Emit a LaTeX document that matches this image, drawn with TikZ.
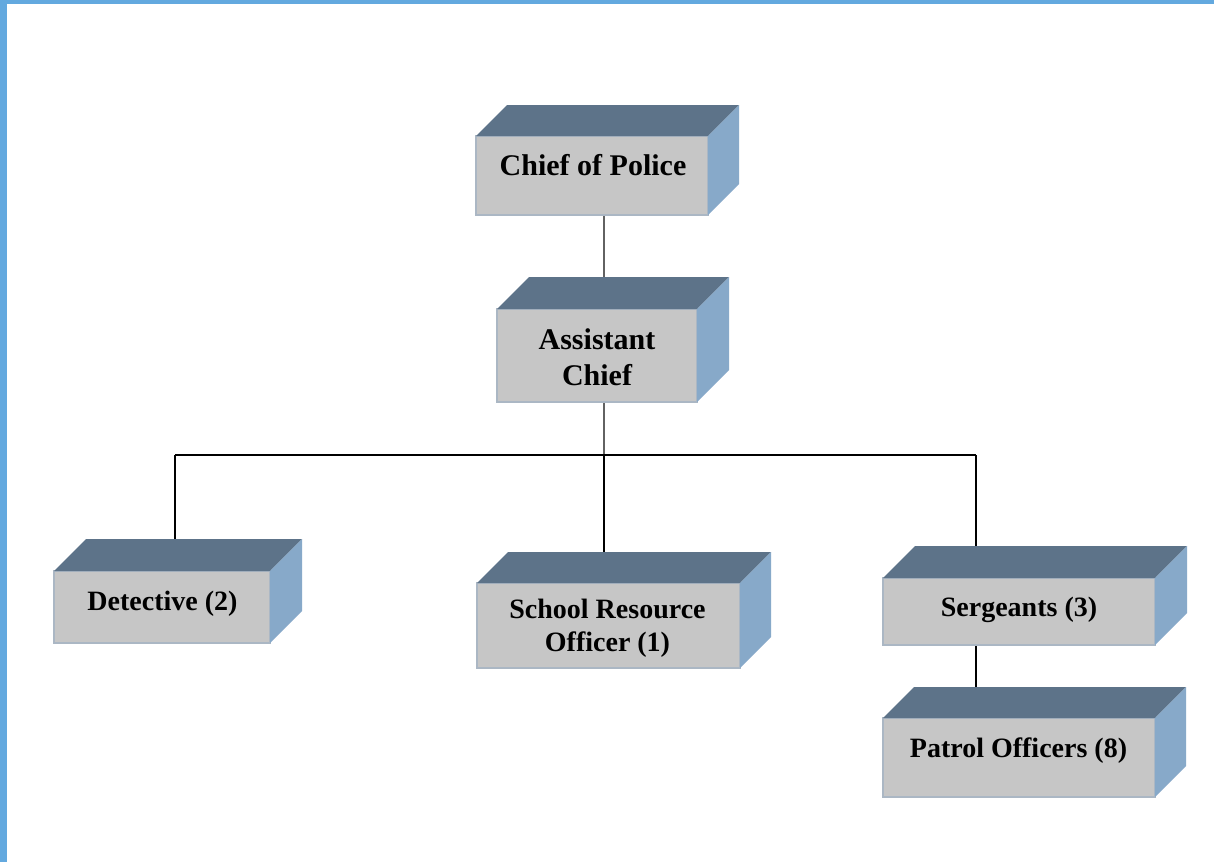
\documentclass[tikz,border=0pt]{standalone}
\usepackage{fontspec}
\setmainfont{Liberation Serif}
\usetikzlibrary{backgrounds}
\definecolor{frontc}{HTML}{C6C6C6}
\definecolor{frontb}{HTML}{ABB7C4}
\definecolor{topc}{HTML}{5D7389}
\definecolor{sidec}{HTML}{87A9C9}
\definecolor{framec}{HTML}{63A9DF}
\definecolor{greyline}{HTML}{626262}
\tikzset{
  frontface/.style={fill=frontc, draw=frontb, line width=1.2pt, inner sep=0pt, outer sep=0pt},
  bigtext/.style={font=\bfseries\fontsize{30}{36}\selectfont, align=center, inner sep=0pt},
  smalltext/.style={font=\bfseries\fontsize{28}{33}\selectfont, align=center, inner sep=0pt},
  greyconn/.style={draw=greyline, line width=2.6pt},
  blackconn/.style={draw=black, line width=1.5pt},
}
% depth faces of a box node
\newcommand\boxfaces[2]{%
  \fill[topc] (#1.north west) -- ++(#2,-#2) -- ([shift={(#2,-#2)}]#1.north east) -- (#1.north east) -- cycle;
  \fill[sidec] (#1.north east) -- ([shift={(#2,-#2)}]#1.north east) -- ([shift={(#2,-#2)}]#1.south east) -- (#1.south east) -- cycle;
}
\begin{document}
\begin{tikzpicture}[x=1pt,y=-1pt]
\useasboundingbox (0,0) rectangle (1214,862);

% boxes (front faces)
\node[frontface, minimum width=232pt, minimum height=79pt] (chief) at (592,175.5) {};
\boxfaces{chief}{31}
\node[frontface, minimum width=200pt, minimum height=93pt] (assist) at (597,355.5) {};
\boxfaces{assist}{32}
\node[frontface, minimum width=216pt, minimum height=72pt] (det) at (162,607) {};
\boxfaces{det}{32}
\node[frontface, minimum width=263pt, minimum height=85pt] (sro) at (608.5,625.5) {};
\boxfaces{sro}{31}
\node[frontface, minimum width=272pt, minimum height=67pt] (serg) at (1019,611.5) {};
\boxfaces{serg}{32}
\node[frontface, minimum width=272pt, minimum height=79pt] (patrol) at (1019,757.5) {};
\boxfaces{patrol}{31}

% texts
\node[bigtext, anchor=base] (chiefT) at (593,175) {Chief of Police};
\node[bigtext, anchor=center] (assistT) at (597,357) {Assistant\\Chief};
\node[smalltext, anchor=base] (detT) at (162.5,610) {Detective (2)};
\node[smalltext, anchor=center] (sroT) at (607.5,628) {School Resource\\Officer (1)};
\node[smalltext, anchor=base] (sergT) at (1019,616) {Sergeants (3)};
\node[smalltext, anchor=base] (patrolT) at (1018.5,757) {Patrol Officers (8)};

% connectors
\coordinate (jm) at (604,455);
\coordinate (jl) at (175,455);
\coordinate (jr) at (976,455);
\begin{pgfonlayer}{background}
\fill[white] (0,0) rectangle (1214,862);
\fill[framec] (0,0) rectangle (7,862);
\fill[framec] (0,0) rectangle (1214,4);
\draw[greyconn] (chief.south -| jm) -- (assist.center -| jm);
\draw[greyconn] (assist.south -| jm) -- (jm);
\draw[blackconn] (jl) -- (jr);
\draw[blackconn] (jl) -- (jl |- det.center);
\draw[blackconn] (jm) -- (jm |- sro.center);
\draw[blackconn] (jr) -- (jr |- serg.center);
\draw[blackconn] (serg.south -| jr) -- (jr |- patrol.center);
\end{pgfonlayer}
\end{tikzpicture}
\end{document}
